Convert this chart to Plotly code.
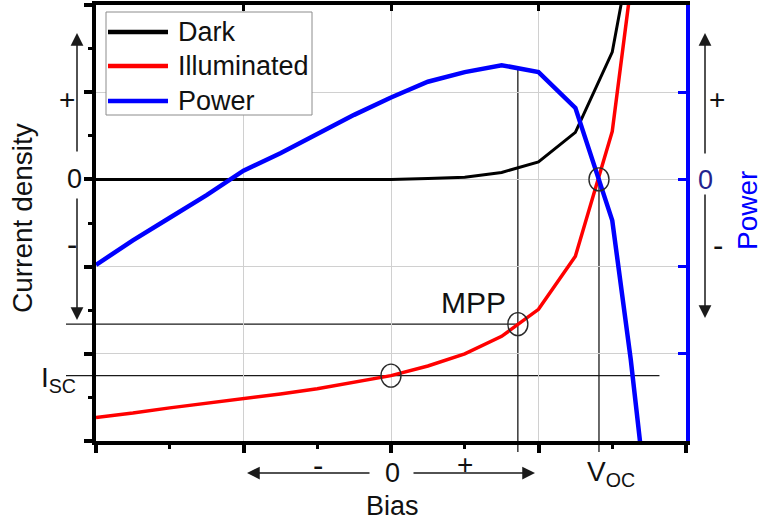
import plotly.graph_objects as go

# Bias points (arbitrary units) shared by the three curves
BIAS = [0.0, 0.25, 0.5, 0.75, 1.0, 1.25, 1.5, 1.75, 2.0, 2.25, 2.5, 2.75, 3.0, 3.25, 3.5, 3.625, 3.75]
DARK = [0.0, 0.0, 0.0, 0.0, 0.0, 0.0, 0.0, 0.0, 0.0, 0.01, 0.025, 0.08, 0.20, 0.54, 1.46, 2.6, 3.8]
ILLUMINATED = [-2.73, -2.68, -2.62, -2.57, -2.52, -2.46, -2.40, -2.33, -2.25, -2.14, -2.00, -1.80, -1.49, -0.88, 0.55, 2.2, 3.5]
POWER = [-0.98, -0.70, -0.44, -0.18, 0.10, 0.30, 0.52, 0.74, 0.94, 1.12, 1.23, 1.31, 1.23, 0.82, -0.47, -2.06, -3.93]

SERIES_NAMES = ["Dark", "Illuminated", "Power"]
SERIES_COLORS = ["#000000", "#ff0000", "#0000ff"]
SERIES_WIDTHS = [3, 3.5, 4.5]

# Characteristic points
ISC_V, ISC_J = 2.0, -2.25
MPP_V, MPP_J, MPP_P = 2.86, -1.66, 1.29
VOC = 3.41
ISC_LINE_END = 3.82

X_RANGE = [0, 4]
Y_RANGE = [-3, 2]

FONT = "Liberation Sans, Arial, sans-serif"
W, H = 763, 525
ML, MR, MT, MB = 96, 77, 5, 84
PW, PH = W - ML - MR, H - MT - MB


def xpaper(v):
    return (v - X_RANGE[0]) / (X_RANGE[1] - X_RANGE[0])


def ypaper(v):
    return (v - Y_RANGE[0]) / (Y_RANGE[1] - Y_RANGE[0])


def px_x(p):
    return (p - ML) / PW


def px_y(p):
    return (H - MB - p) / PH


fig = go.Figure()

fig.add_trace(go.Scatter(x=BIAS, y=DARK, mode="lines", name=SERIES_NAMES[0],
                         line=dict(color=SERIES_COLORS[0], width=SERIES_WIDTHS[0])))
fig.add_trace(go.Scatter(x=BIAS, y=ILLUMINATED, mode="lines", name=SERIES_NAMES[1],
                         line=dict(color=SERIES_COLORS[1], width=SERIES_WIDTHS[1])))
fig.add_trace(go.Scatter(x=BIAS, y=POWER, mode="lines", name=SERIES_NAMES[2], yaxis="y2",
                         line=dict(color=SERIES_COLORS[2], width=SERIES_WIDTHS[2])))
# empty trace so the top frame axis is created
fig.add_trace(go.Scatter(x=[], y=[], xaxis="x2", yaxis="y", showlegend=False, hoverinfo="skip"))

shapes = []
ref_line = dict(color="#1a1a1a", width=1.3)
# MPP and Isc horizontal guides
shapes.append(dict(type="line", xref="paper", yref="y", x0=px_x(66), x1=xpaper(MPP_V),
                   y0=MPP_J, y1=MPP_J, line=ref_line, layer="below"))
shapes.append(dict(type="line", xref="paper", yref="y", x0=px_x(66), x1=xpaper(ISC_LINE_END),
                   y0=ISC_J, y1=ISC_J, line=ref_line, layer="below"))
# MPP and Voc vertical guides
shapes.append(dict(type="line", xref="x", yref="paper", x0=MPP_V, x1=MPP_V,
                   y0=px_y(452), y1=ypaper(MPP_P), line=ref_line, layer="below"))
shapes.append(dict(type="line", xref="x", yref="paper", x0=VOC, x1=VOC,
                   y0=px_y(452), y1=ypaper(0), line=ref_line, layer="below"))

# circles marking Isc, MPP and Voc
for cx, cy in [(ISC_V, ISC_J), (MPP_V, MPP_J), (VOC, 0.0)]:
    shapes.append(dict(type="circle", xref="x", yref="y", xsizemode="pixel", ysizemode="pixel",
                       xanchor=cx, yanchor=cy, x0=-10, x1=10, y0=-11.5, y1=11.5,
                       line=dict(color="#2a2a2a", width=1.4), layer="above"))

# legend box with line samples
shapes.append(dict(type="rect", xref="paper", yref="paper", x0=px_x(106), x1=px_x(312),
                   y0=px_y(115), y1=px_y(12), fillcolor="white",
                   line=dict(color="#8c8c8c", width=1), layer="above"))
legend_rows = [32, 66, 101]
annotations = []
for name, color, row in zip(SERIES_NAMES, SERIES_COLORS, legend_rows):
    shapes.append(dict(type="line", xref="paper", yref="paper", x0=px_x(108), x1=px_x(168),
                       y0=px_y(row), y1=px_y(row), line=dict(color=color, width=4.5), layer="above"))
    annotations.append(dict(text=name, xref="paper", yref="paper", x=px_x(176), y=px_y(row),
                            xanchor="left", yanchor="middle", showarrow=False,
                            font=dict(size=27, color="#111111", family=FONT)))


def label(text, x, y, size=27, color="#111111", angle=0):
    annotations.append(dict(text=text, xref="paper", yref="paper", x=px_x(x), y=px_y(y),
                            xanchor="center", yanchor="middle", showarrow=False, textangle=angle,
                            font=dict(size=size, color=color, family=FONT)))


def arrow(tip_x, tip_y, tail_x, tail_y):
    annotations.append(dict(text="", xref="paper", yref="paper", x=px_x(tip_x), y=px_y(tip_y),
                            ax=tail_x - tip_x, ay=tail_y - tip_y, axref="pixel", ayref="pixel",
                            showarrow=True, arrowhead=2, arrowsize=1.7, arrowwidth=1.5,
                            arrowcolor="#1a1a1a", standoff=0, startstandoff=0))


# axis titles
label("Current density", 22, 218, size=28, angle=-90)
label("Power", 747, 211, size=28, color="#0000ff", angle=-90)
label("Bias", 392, 506, size=27)

# left sign markers
label("+", 67, 99, size=28)
label("0", 74, 179, size=27)
label("-", 72, 244, size=31)
arrow(77, 33, 77, 153)
arrow(77, 320, 77, 197)

# right sign markers
label("+", 717, 99, size=28)
label("0", 705, 180, size=27, color="#23238e")
label("-", 718, 246, size=31)
arrow(705, 33, 705, 155)
arrow(705, 318, 705, 193)

# bias direction markers
label("-", 318, 465, size=31)
label("0", 392, 473, size=27)
label("+", 465, 464, size=28)
arrow(247, 473, 371, 473)
arrow(535, 473, 412, 473)

# point labels
annotations.append(dict(text="V<sub>OC</sub>", xref="x", yref="paper", x=VOC + 0.08, y=px_y(473),
                        xanchor="center", yanchor="middle", showarrow=False,
                        font=dict(size=28, color="#111111", family=FONT)))
annotations.append(dict(text="I<sub>SC</sub>", xref="paper", yref="y", x=px_x(58), y=ISC_J - 0.05,
                        xanchor="center", yanchor="middle", showarrow=False,
                        font=dict(size=28, color="#111111", family=FONT)))
annotations.append(dict(text="MPP", xref="x", yref="y", x=MPP_V - 0.30, y=MPP_J + 0.25,
                        xanchor="center", yanchor="middle", showarrow=False,
                        font=dict(size=30, color="#111111", family=FONT)))

grid_color = "#d0d0d0"
fig.update_layout(
    width=W, height=H,
    margin=dict(l=ML, r=MR, t=MT, b=MB),
    paper_bgcolor="white",
    plot_bgcolor="rgba(0,0,0,0)",
    showlegend=False,
    shapes=shapes,
    annotations=annotations,
    xaxis=dict(range=X_RANGE, tickvals=[0, 1, 2, 3, 4], showticklabels=False,
               ticks="outside", ticklen=8, tickwidth=4, tickcolor="black",
               minor=dict(dtick=0.5, tick0=0, ticks="outside", ticklen=4, tickwidth=3,
                          tickcolor="black", showgrid=False),
               showline=True, linecolor="black", linewidth=4,
               showgrid=True, gridcolor=grid_color, gridwidth=1, zeroline=False),
    xaxis2=dict(range=X_RANGE, overlaying="x", side="top", anchor="y",
                tickvals=[1, 2, 3], showticklabels=False, ticks="inside", ticklen=6,
                tickwidth=3, tickcolor="black", showline=True, linecolor="black",
                linewidth=4, showgrid=False, zeroline=False),
    yaxis=dict(range=Y_RANGE, tickvals=[-3, -2, -1, 0, 1, 2], showticklabels=False,
               ticks="outside", ticklen=8, tickwidth=4, tickcolor="black",
               minor=dict(dtick=0.5, tick0=0, ticks="outside", ticklen=4, tickwidth=3,
                          tickcolor="black", showgrid=False),
               showline=True, linecolor="black", linewidth=4,
               showgrid=True, gridcolor=grid_color, gridwidth=1, zeroline=False),
    yaxis2=dict(range=Y_RANGE, overlaying="y", side="right", anchor="x",
                tickvals=[-2, -1, 0, 1], showticklabels=False, ticks="inside",
                ticklen=8, tickwidth=3, tickcolor="#0000ff",
                showline=True, linecolor="#0000ff", linewidth=4,
                showgrid=False, zeroline=False),
)

fig.write_html("out.html")
